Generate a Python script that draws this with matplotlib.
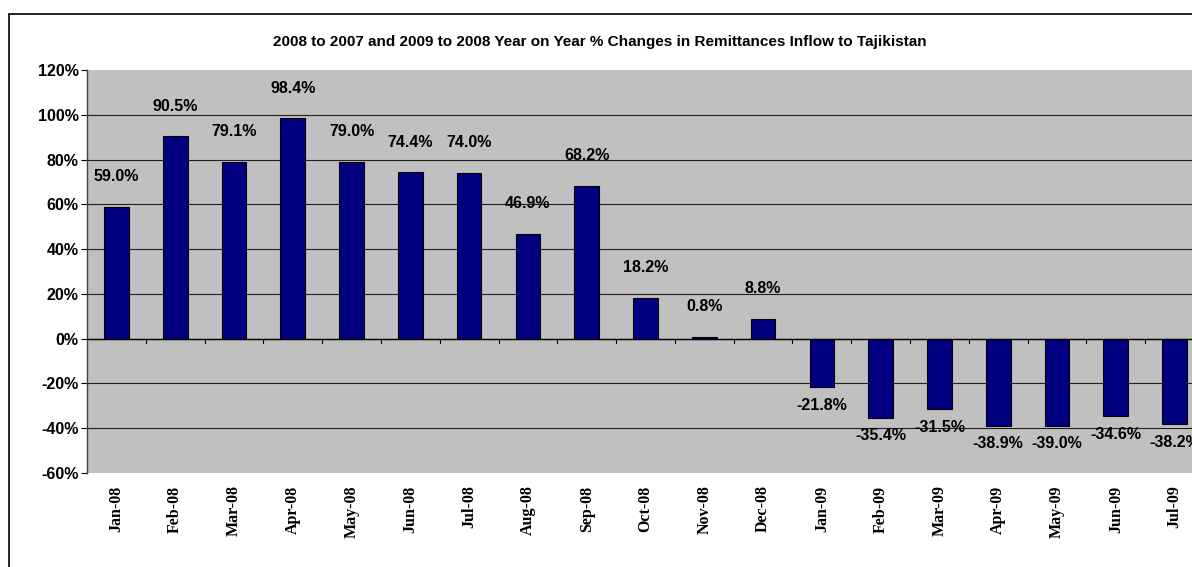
import matplotlib.pyplot as plt
from matplotlib.patches import Rectangle

# data
months = ['Jan-08', 'Feb-08', 'Mar-08', 'Apr-08', 'May-08', 'Jun-08', 'Jul-08',
          'Aug-08', 'Sep-08', 'Oct-08', 'Nov-08', 'Dec-08', 'Jan-09', 'Feb-09',
          'Mar-09', 'Apr-09', 'May-09', 'Jun-09', 'Jul-09']
changes = [59.0, 90.5, 79.1, 98.4, 79.0, 74.4, 74.0, 46.9, 68.2, 18.2, 0.8, 8.8,
           -21.8, -35.4, -31.5, -38.9, -39.0, -34.6, -38.2]
y_ticks = [-60, -40, -20, 0, 20, 40, 60, 80, 100, 120]

fig = plt.figure(figsize=(11.92, 5.67), dpi=100)
# axes runs a bit past the right edge, like the original screenshot
ax = fig.add_axes([87 / 1192, 1 - 473 / 567, 1117 / 1192, 403 / 567])
ax.set_facecolor('#C0C0C0')

# outer chart border (cut off at right and bottom)
fig.add_artist(Rectangle((9 / 1192, -0.1), 1.2, 1.1 - 14 / 567,
                         transform=fig.transFigure, fill=False,
                         edgecolor='black', linewidth=1.2))

x = list(range(len(months)))
ax.bar(x, changes, width=0.42, color='#000080', edgecolor='black', linewidth=0.8, zorder=3)

ax.set_xlim(-0.5, len(months) - 0.5)
ax.set_ylim(-60, 120)

# grid lines
for v in y_ticks[1:-1]:
    ax.axhline(v, color='#202020', linewidth=0.8, zorder=1)
ax.axhline(0, color='black', linewidth=1.0, zorder=4)

# data labels
for i, v in enumerate(changes):
    if v >= 0:
        ax.annotate(f'{v:.1f}%', (i, v), xytext=(0, 30), textcoords='offset pixels',
                    ha='center', va='center', fontsize=11.5, fontweight='bold',
                    family='Liberation Sans', zorder=5)
    else:
        ax.annotate(f'{v:.1f}%', (i, v), xytext=(0, -18), textcoords='offset pixels',
                    ha='center', va='center', fontsize=11.5, fontweight='bold',
                    family='Liberation Sans', zorder=5)

# y axis
ax.set_yticks(y_ticks)
ax.set_yticklabels([f'{v}%' for v in y_ticks], fontsize=11.5, fontweight='bold',
                   family='Liberation Sans')
ax.tick_params(axis='y', length=4, width=0.8, pad=2)

# x axis labels at bottom, ticks on zero line
ax.set_xticks(x)
ax.set_xticklabels(months, rotation=90, fontsize=11.5, fontweight='bold',
                   family='Liberation Serif')
ax.tick_params(axis='x', length=0, pad=9)
for b in range(1, len(months)):
    ax.plot([b - 0.5, b - 0.5], [0, -2], color='black', linewidth=0.8, zorder=4,
            clip_on=False)

for s in ['top', 'right', 'bottom']:
    ax.spines[s].set_visible(False)
ax.spines['left'].set_color('#404040')
ax.spines['left'].set_linewidth(1.0)

fig.text(600 / 1192, 1 - 42 / 567,
         '2008 to 2007 and 2009 to 2008 Year on Year % Changes in Remittances Inflow to Tajikistan',
         ha='center', va='center', fontsize=11, fontweight='bold', family='Liberation Sans')

plt.savefig('out.png', dpi=100)
